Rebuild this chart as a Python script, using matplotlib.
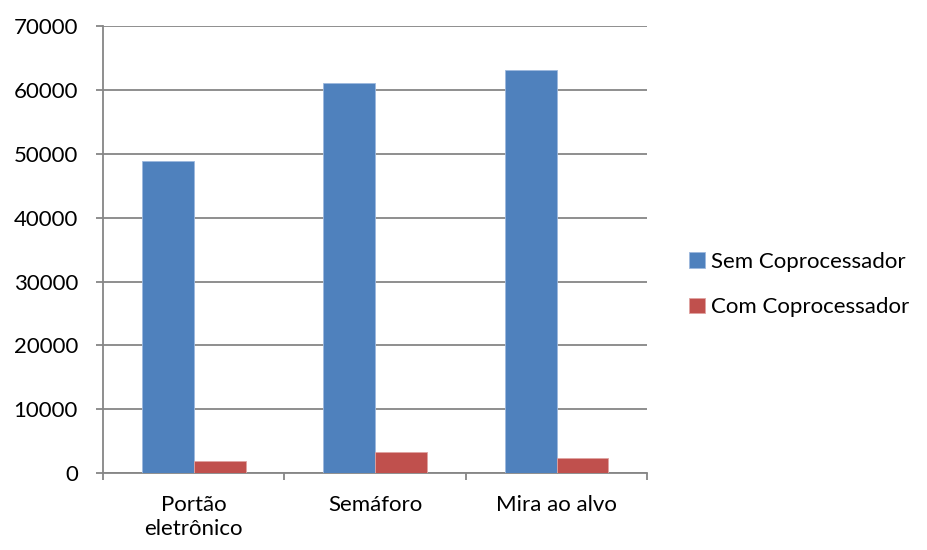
import matplotlib
matplotlib.use("Agg")
import matplotlib.pyplot as plt
import numpy as np

categories = ["Portão\neletrônico", "Semáforo", "Mira ao alvo"]
series_names = ["Sem Coprocessador", "Com Coprocessador"]
sem_copro = [48900, 61100, 63100]
com_copro = [1850, 3300, 2400]
y_ticks = [0, 10000, 20000, 30000, 40000, 50000, 60000, 70000]

plt.rcParams["font.family"] = ["Lato", "DejaVu Sans"]

fig = plt.figure(figsize=(9.28, 5.5), dpi=100)
ax = fig.add_axes([0.111, 0.1395, 0.5865, 0.8132])

grid_color = "#868686"
x = np.arange(len(categories))
w = 1 / 3.5
ax.bar(x - w / 2, sem_copro, w, color="#4F81BD", edgecolor="#9DB9DE", linewidth=0.6,
       label=series_names[0], zorder=3)
ax.bar(x + w / 2, com_copro, w, color="#C0504D", edgecolor="#DFA3A1", linewidth=0.6,
       label=series_names[1], zorder=3)

ax.set_xlim(-0.5, len(categories) - 0.5)
ax.set_ylim(0, 70000)
ax.set_yticks(y_ticks)
ax.set_yticklabels([str(v) for v in y_ticks], fontsize=16)
ax.yaxis.grid(True, color=grid_color, linewidth=1.3, zorder=0)

ax.set_xticks(x)
ax.set_xticklabels(categories, fontsize=16, linespacing=1.2)
ax.set_xticks(np.arange(len(categories) + 1) - 0.5, minor=True)
ax.tick_params(axis="x", which="major", length=0, pad=16)
ax.tick_params(axis="x", which="minor", length=5, width=1.3, color=grid_color)
ax.tick_params(axis="y", length=5, width=1.3, color=grid_color, pad=13)

for side in ["top", "right"]:
    ax.spines[side].set_visible(False)
for side in ["left", "bottom"]:
    ax.spines[side].set_color(grid_color)
    ax.spines[side].set_linewidth(1.3)

leg = ax.legend(loc="center left", bbox_to_anchor=(1.04, 0.422), frameon=False,
                fontsize=16, handlelength=0.7, handleheight=0.7,
                handletextpad=0.3, labelspacing=1.15)

fig.savefig("out.png", dpi=100)
